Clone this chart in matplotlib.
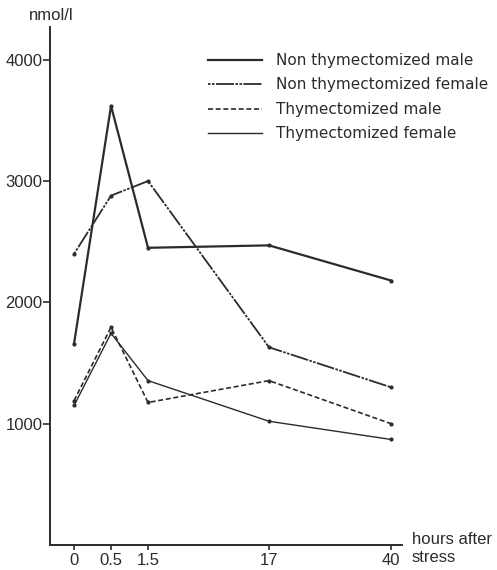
import numpy as np
import matplotlib
matplotlib.use("Agg")
import matplotlib.pyplot as plt

# cortisol-type response after stress, four groups of rats
hours = [0, 0.5, 1.5, 17, 40]
hour_labels = ["0", "0.5", "1.5", "17", "40"]

nt_male = [1660, 3620, 2450, 2470, 2180]
nt_female = [2400, 2880, 3000, 1630, 1300]
th_male = [1190, 1795, 1175, 1355, 1000]
th_female = [1150, 1745, 1355, 1020, 870]

labels = ["Non thymectomized male", "Non thymectomized female",
          "Thymectomized male", "Thymectomized female"]

# the time axis is stretched by hand in the original: piecewise linear scale
brk_h = np.array([-100, 0, 0.5, 1.5, 17, 40, 140])
brk_p = np.array([-200, 0, 1, 2, 5.27, 8.57, 8.57 + 100 * 3.3 / 23])

def fwd(x):
    return np.interp(x, brk_h, brk_p)

def inv(p):
    return np.interp(p, brk_p, brk_h)

plt.rcParams['font.family'] = ['Liberation Sans', 'DejaVu Sans']
ink = '#2b2b2b'

fig = plt.figure(figsize=(4.97, 5.70), dpi=100)
ax = fig.add_axes([50 / 497, 25 / 570, 352 / 497, 518 / 570])
ax.set_xscale('function', functions=(fwd, inv))

mk = dict(marker='o', markersize=2.0, color=ink)
ax.plot(hours, nt_male, lw=1.6, label=labels[0], **mk)
ax.plot(hours, nt_female, lw=1.3, dashes=(1.4, 0.8, 1.4, 0.8, 10, 0.8),
        label=labels[1], **mk)
ax.plot(hours, th_male, lw=1.2, dashes=(3, 1.6), label=labels[2], **mk)
ax.plot(hours, th_female, lw=1.0, label=labels[3], **mk)

ax.set_xlim(-0.325, 42.06)
ax.set_ylim(0, 4270)
ax.set_xticks(hours)
ax.set_xticklabels(hour_labels)
ax.set_yticks([1000, 2000, 3000, 4000])

for s in ['top', 'right']:
    ax.spines[s].set_visible(False)
for s in ['left', 'bottom']:
    ax.spines[s].set_color(ink)
    ax.spines[s].set_linewidth(1.4)
ax.tick_params(colors=ink, labelsize=12, width=1.2)
ax.tick_params(axis='y', length=5, pad=0.5)
ax.tick_params(axis='x', length=3.5, pad=2)

fig.text(29 / 497, 1 - 16 / 570, "nmol/l", fontsize=12, color=ink,
         va='center', ha='left')
fig.text(412 / 497, 1 - 539 / 570, "hours after", fontsize=12, color=ink,
         va='center', ha='left')
fig.text(412 / 497, 1 - 558 / 570, "stress", fontsize=12, color=ink,
         va='center', ha='left')

leg = ax.legend(loc='upper left', bbox_to_anchor=(208 / 497, 1 - 53 / 570),
                bbox_transform=fig.transFigure, frameon=False,
                prop={'family': 'DejaVu Sans', 'size': 11},
                handlelength=3.55, handletextpad=0.9, labelspacing=0.62,
                borderaxespad=0, borderpad=0)
for h in leg.legend_handles:
    h.set_marker('')
for t in leg.get_texts():
    t.set_color(ink)

fig.savefig('out.png', dpi=100, facecolor='white')
